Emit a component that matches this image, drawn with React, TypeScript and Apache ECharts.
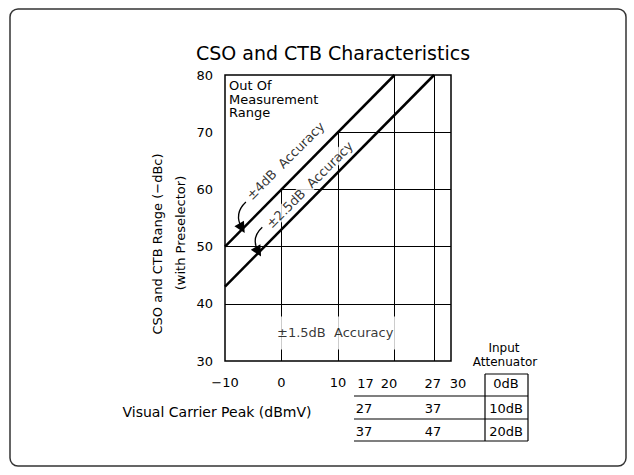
import React, { useEffect, useRef } from "react";
import * as echarts from "echarts";

const FONT = "DejaVu Sans";

// Axis ticks
const xTickValues = [-10, 0, 10];
const yTickValues = [30, 40, 50, 60, 70, 80];

// Accuracy boundaries [x, y]
const upperBoundary = [[-10, 50], [20, 80]];
const lowerBoundary = [[-10, 43], [27, 80]];

// Grid segments: vertical [x, yFrom, yTo], horizontal [y, xFrom, xTo]
const verticalGrid = [[0, 30, 60], [10, 30, 70], [20, 30, 80], [27, 30, 80]];
const horizontalGrid = [[40, -10, 30], [50, -10, 30], [60, 0, 30], [70, 10, 30]];

// Arrows [start, end]
const arrowFourDb = [[-6.3, 57.8], [-7.0, 53.2]];
const arrowTwoFiveDb = [[-3.4, 53.4], [-4.1, 49.1]];

// Annotations
const annotationTexts = ["±4dB  Accuracy", "±2.5dB  Accuracy", "±1.5dB  Accuracy"];
const annotationCoords = [[0.7, 65.0], [5.0, 60.8], [9.5, 34.9]];

// Table
const topRowLabels = ["17", "20", "27", "30"];
const row10dB = ["27", "37"];
const row20dB = ["37", "47"];
const attenuatorLabels = ["0dB", "10dB", "20dB"];

export default function App() {
  const ref = useRef<HTMLDivElement>(null);
  useEffect(() => {
    if (!ref.current) return;
    const chart = echarts.init(ref.current, null, { renderer: "svg" });

    const segStyle = { color: "#000", width: 1, opacity: 1 };
    const gridLines = [
      ...verticalGrid.map(([x, y1, y2]) => ({ coords: [[x, y1], [x, y2]] })),
      ...horizontalGrid.map(([y, x1, x2]) => ({ coords: [[x1, y], [x2, y]] })),
    ];

    const topRowX = [365.5, 389, 432.7, 458];
    const colX = [364, 433];
    const rowY = [383, 408, 431];
    const attX = 506;

    const txt = (text: string, x: number, y: number, size = 13, extra: any = {}) => ({
      type: "text",
      x,
      y,
      silent: true,
      style: {
        text,
        fill: "#000",
        font: `${size}px "${FONT}"`,
        align: "center",
        verticalAlign: "middle",
        ...extra,
      },
    });
    const ln = (x1: number, y1: number, x2: number, y2: number) => ({
      type: "line",
      silent: true,
      shape: { x1, y1, x2, y2 },
      style: { stroke: "#000", lineWidth: 1.2 },
    });

    chart.setOption({
      animation: false,
      backgroundColor: "#fff",
      textStyle: { fontFamily: FONT },
      grid: {
        left: 225,
        right: 634 - 451,
        top: 75,
        bottom: 475 - 361,
        show: true,
        borderColor: "#000",
        borderWidth: 1.5,
        backgroundColor: "transparent",
      },
      xAxis: {
        type: "value",
        min: -10,
        max: 30,
        interval: 10,
        axisLine: { show: false },
        axisTick: { show: false },
        splitLine: { show: false },
        axisLabel: {
          margin: 15,
          color: "#000",
          fontSize: 13,
          fontFamily: FONT,
          formatter: (v: number) =>
            xTickValues.includes(v) ? (v < 0 ? "\u2212" + Math.abs(v) : String(v)) : "",
        },
      },
      yAxis: {
        type: "value",
        min: 30,
        max: 80,
        interval: 10,
        axisLine: { show: false },
        axisTick: { show: false },
        splitLine: { show: false },
        axisLabel: {
          margin: 12,
          color: "#000",
          fontSize: 13,
          fontFamily: FONT,
          formatter: (v: number) => (yTickValues.includes(v) ? String(v) : ""),
        },
      },
      series: [
        {
          type: "lines",
          coordinateSystem: "cartesian2d",
          silent: true,
          z: 1,
          lineStyle: segStyle,
          data: gridLines,
        },
        {
          type: "scatter",
          silent: true,
          z: 3,
          symbolSize: 0,
          data: annotationTexts.map((t, i) => ({
            name: t,
            value: annotationCoords[i],
            label: {
              rotate: i < 2 ? 45 : 0,
              padding: i < 2 ? [0, 2] : [10, 3],
              backgroundColor: i === 0 ? "transparent" : "#fff",
            },
          })),
          label: {
            show: true,
            position: "inside",
            formatter: "{b}",
            color: "#000",
            fontSize: 13,
            fontFamily: FONT,
            align: "center",
            verticalAlign: "middle",
          },
        },
        {
          type: "lines",
          coordinateSystem: "cartesian2d",
          silent: true,
          z: 4,
          lineStyle: { color: "#000", width: 2.5, opacity: 1 },
          data: [{ coords: upperBoundary }, { coords: lowerBoundary }],
        },
        {
          type: "lines",
          coordinateSystem: "cartesian2d",
          silent: true,
          z: 5,
          symbol: ["none", "triangle"],
          symbolSize: 11,
          lineStyle: { color: "#000", width: 1.3, opacity: 1, curveness: -0.4 },
          itemStyle: { color: "#000" },
          data: [{ coords: arrowFourDb }, { coords: arrowTwoFiveDb }],
        },
      ],
      graphic: [
        {
          type: "rect",
          silent: true,
          shape: { x: 10, y: 9, width: 616, height: 457, r: 8 },
          style: { fill: "none", stroke: "#333", lineWidth: 1.5 },
        },
        txt("CSO and CTB Characteristics", 333, 53, 19),
        {
          type: "text",
          x: 229,
          y: 79,
          silent: true,
          style: {
            text: "Out Of\nMeasurement\nRange",
            fill: "#000",
            font: `13px "${FONT}"`,
            lineHeight: 13.5,
            align: "left",
            verticalAlign: "top",
          },
        },
        { ...txt("CSO and CTB Range (\u2212dBc)", 157, 244), rotation: Math.PI / 2 },
        { ...txt("(with Preselector)", 180, 233), rotation: Math.PI / 2 },
        txt("Visual Carrier Peak (dBmV)", 217, 412, 14),
        txt("Input", 504, 348, 12),
        txt("Attenuator", 505, 362, 12),
        ...topRowLabels.map((t, i) => txt(t, topRowX[i], rowY[0])),
        ...row10dB.map((t, i) => txt(t, colX[i], rowY[1])),
        ...row20dB.map((t, i) => txt(t, colX[i], rowY[2])),
        ...attenuatorLabels.map((t, i) => txt(t, attX, rowY[i])),
        ln(354, 396, 528, 396),
        ln(354, 419, 528, 419),
        ln(354, 441, 528, 441),
        ln(485, 374, 528, 374),
        ln(485, 374, 485, 441),
        ln(528, 374, 528, 441),
      ],
    });
    return () => chart.dispose();
  }, []);
  return (
    <div
      ref={ref}
      style={{ position: "absolute", left: 0, top: 0, width: 634, height: 475 }}
    />
  );
}
